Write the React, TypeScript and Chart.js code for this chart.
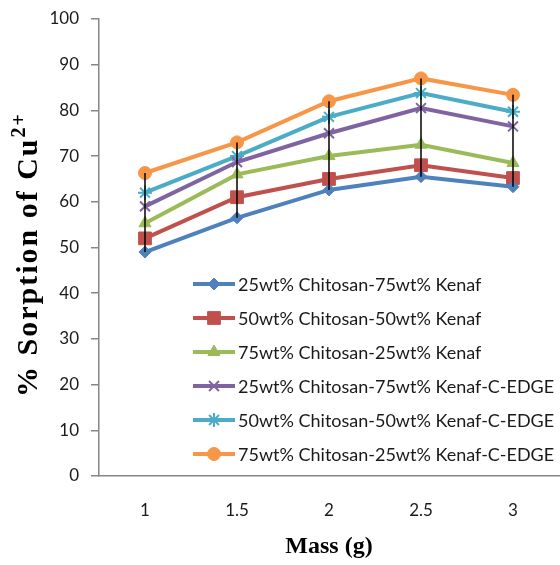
import React, { useEffect, useRef } from "react";
import { Chart, registerables } from "chart.js";
import { drawPoint } from "chart.js/helpers";

Chart.register(...registerables);

const massLabels = ["1", "1.5", "2", "2.5", "3"];
const seriesNames = [
  "25wt% Chitosan-75wt% Kenaf",
  "50wt% Chitosan-50wt% Kenaf",
  "75wt% Chitosan-25wt% Kenaf",
  "25wt% Chitosan-75wt% Kenaf-C-EDGE",
  "50wt% Chitosan-50wt% Kenaf-C-EDGE",
  "75wt% Chitosan-25wt% Kenaf-C-EDGE",
];
const chit25Kenaf75 = [49, 56.5, 62.6, 65.5, 63.3];
const chit50Kenaf50 = [52, 61, 65, 68, 65.2];
const chit75Kenaf25 = [55.3, 66, 70, 72.5, 68.5];
const chit25Kenaf75Edge = [59, 68.7, 75, 80.5, 76.5];
const chit50Kenaf50Edge = [62, 70, 78.6, 83.8, 79.7];
const chit75Kenaf25Edge = [66.3, 73, 82, 87, 83.4];
const yMin = 0;
const yMax = 100;
const yStep = 10;

const seriesData = [
  chit25Kenaf75,
  chit50Kenaf50,
  chit75Kenaf25,
  chit25Kenaf75Edge,
  chit50Kenaf50Edge,
  chit75Kenaf25Edge,
];
const colors = ["#4F81BD", "#C0504D", "#9BBB59", "#8064A2", "#4BACC6", "#F79646"];
const styles = ["rectRot", "rect", "triangle", "crossRot", "star", "circle"];
const radii = [6, 9, 7, 7, 7, 6.5];
const pBorder = [1, 1, 1, 2, 2, 1];

const SANS = "Lato, 'Liberation Sans', sans-serif";
const SERIF = "'Liberation Serif', 'Times New Roman', serif";

const hiLoPlugin = {
  id: "hiLo",
  afterDatasetsDraw(chart: any) {
    const ctx = chart.ctx;
    const x = chart.scales.x;
    const y = chart.scales.y;
    ctx.save();
    ctx.strokeStyle = "#000";
    ctx.lineWidth = 1.5;
    for (let i = 0; i < massLabels.length; i++) {
      const vals = chart.data.datasets.map((d: any) => d.data[i]);
      const hi = Math.max(...vals);
      const lo = Math.min(...vals);
      const px = x.getPixelForValue(i);
      ctx.beginPath();
      ctx.moveTo(px, y.getPixelForValue(hi));
      ctx.lineTo(px, y.getPixelForValue(lo));
      ctx.stroke();
    }
    ctx.restore();
  },
};

const customLegendAndTitles = {
  id: "customLegendAndTitles",
  afterDraw(chart: any) {
    const ctx = chart.ctx;
    ctx.save();
    chart.data.datasets.forEach((ds: any, i: number) => {
      const cy = 284 + i * 34;
      ctx.strokeStyle = ds.borderColor;
      ctx.lineWidth = 4;
      ctx.beginPath();
      ctx.moveTo(193, cy);
      ctx.lineTo(235, cy);
      ctx.stroke();
      ctx.fillStyle = ds.pointBackgroundColor;
      ctx.strokeStyle = ds.pointBorderColor;
      ctx.lineWidth = ds.pointBorderWidth;
      drawPoint(ctx, { pointStyle: ds.pointStyle, rotation: 0, radius: ds.pointRadius, borderWidth: ds.pointBorderWidth }, 214, cy);
      ctx.fillStyle = "#1a1a1a";
      ctx.font = "18px " + SANS;
      ctx.textAlign = "left";
      ctx.textBaseline = "middle";
      ctx.fillText(ds.label, 238, cy + 1);
    });
    // y-axis title with superscript
    ctx.save();
    ctx.translate(37, 397);
    ctx.rotate(-Math.PI / 2);
    ctx.fillStyle = "#000";
    ctx.textAlign = "left";
    ctx.textBaseline = "alphabetic";
    try {
      (ctx as any).letterSpacing = "2px";
    } catch (e) {}
    ctx.font = "bold 30px " + SERIF;
    const main = "% Sorption of Cu";
    ctx.fillText(main, 0, 0);
    const w = ctx.measureText(main).width;
    ctx.font = "bold 20px " + SERIF;
    ctx.fillText("2+", w, -12);
    try {
      (ctx as any).letterSpacing = "0px";
    } catch (e) {}
    ctx.restore();
    // x-axis title
    ctx.fillStyle = "#000";
    ctx.font = "bold 24px " + SERIF;
    ctx.textAlign = "center";
    ctx.textBaseline = "alphabetic";
    const xs = chart.scales.x;
    ctx.fillText("Mass (g)", (xs.left + xs.right) / 2, 553);
    ctx.restore();
  },
};

export default function App() {
  const ref = useRef<HTMLCanvasElement | null>(null);
  useEffect(() => {
    if (!ref.current) return;
    const chart = new Chart(ref.current, {
      type: "line",
      data: {
        labels: massLabels,
        datasets: seriesNames.map((name, i) => ({
          label: name,
          data: seriesData[i],
          borderColor: colors[i],
          backgroundColor: colors[i],
          borderWidth: 4,
          pointStyle: styles[i] as any,
          pointRadius: radii[i],
          pointBackgroundColor: colors[i],
          pointBorderColor: colors[i],
          pointBorderWidth: pBorder[i],
          tension: 0,
          fill: false,
        })),
      },
      options: {
        responsive: false,
        animation: false,
        devicePixelRatio: 1,
        layout: { autoPadding: false, padding: { top: 19, right: 1, left: 0, bottom: 0 } },
        plugins: {
          legend: { display: false },
          tooltip: { enabled: false },
          title: { display: false },
        },
        scales: {
          x: {
            type: "category",
            offset: true,
            grid: { display: false, drawTicks: false },
            border: { display: true, color: "#868686", width: 1.5 },
            ticks: { color: "#1a1a1a", font: { family: SANS, size: 17 }, padding: 24, maxRotation: 0 },
            afterFit: (s: any) => {
              s.height = 89;
              s.paddingLeft = 0;
              s.paddingRight = 0;
            },
          },
          y: {
            min: yMin,
            max: yMax,
            grid: { display: true, drawOnChartArea: false, drawTicks: true, tickLength: 8, color: "#868686", lineWidth: 1.5 },
            border: { display: true, color: "#868686", width: 1.5 },
            ticks: { stepSize: yStep, color: "#1a1a1a", font: { family: SANS, size: 17 }, padding: 12 },
            afterFit: (s: any) => {
              s.width = 99;
              s.paddingTop = 0;
              s.paddingBottom = 0;
            },
          },
        },
      },
      plugins: [hiLoPlugin, customLegendAndTitles],
    });
    return () => chart.destroy();
  }, []);
  return (
    <div style={{ position: "absolute", left: 0, top: 0, width: 560, height: 565, background: "#fff" }}>
      <canvas ref={ref} width={560} height={565} />
    </div>
  );
}
